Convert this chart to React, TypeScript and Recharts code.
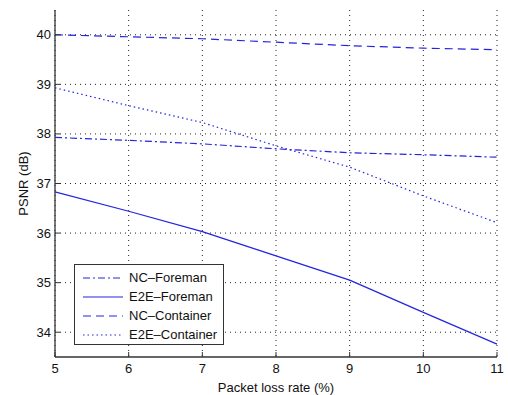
// PSNR vs packet loss rate chart

import { LineChart, Line, XAxis, YAxis, CartesianGrid, Legend } from "recharts";

const lossRates = [5, 6, 7, 8, 9, 10, 11];
const ncForeman = [37.93, 37.87, 37.8, 37.7, 37.62, 37.58, 37.53];
const e2eForeman = [36.83, 36.44, 36.03, 35.54, 35.05, 34.4, 33.76];
const ncContainer = [40.0, 39.96, 39.92, 39.85, 39.78, 39.73, 39.7];
const e2eContainer = [38.93, 38.57, 38.23, 37.76, 37.33, 36.75, 36.21];

const xTicks = [5, 6, 7, 8, 9, 10, 11];
const yTicks = [34, 35, 36, 37, 38, 39, 40];

const data = lossRates.map((x, i) => ({
  x,
  ncForeman: ncForeman[i],
  e2eForeman: e2eForeman[i],
  ncContainer: ncContainer[i],
  e2eContainer: e2eContainer[i],
}));

const BLUE = "#2424e0";
const FONT = "'Liberation Sans', Arial, sans-serif";

const seriesInfo = [
  { key: "ncForeman", name: "NC–Foreman", dash: "7 3 2 3" },
  { key: "e2eForeman", name: "E2E–Foreman", dash: undefined },
  { key: "ncContainer", name: "NC–Container", dash: "8 5" },
  { key: "e2eContainer", name: "E2E–Container", dash: "1.5 3" },
];

// inward ticks like matlab
function XTick(props: any) {
  const { x, y, payload } = props;
  return (
    <g>
      <line x1={x} x2={x} y1={y} y2={y - 5} stroke="#333" strokeWidth={1} />
      <text x={x} y={y + 16} textAnchor="middle" fontSize={13} fill="#111" fontFamily={FONT}>
        {payload.value}
      </text>
    </g>
  );
}

function YTick(props: any) {
  const { x, y, payload } = props;
  return (
    <g>
      <line x1={x} x2={x + 5} y1={y} y2={y} stroke="#333" strokeWidth={1} />
      <text x={x - 4} y={y + 4.5} textAnchor="end" fontSize={13} fill="#111" fontFamily={FONT}>
        {payload.value}
      </text>
    </g>
  );
}

function LegendBox() {
  return (
    <div
      style={{
        width: 150,
        height: 81,
        boxSizing: "border-box",
        border: "1px solid #333",
        background: "#fff",
        fontFamily: FONT,
        fontSize: 13,
        color: "#111",
        paddingTop: 3,
      }}
    >
      {seriesInfo.map((s) => (
        <div key={s.key} style={{ display: "flex", alignItems: "center", height: 19 }}>
          <svg width={54} height={10}>
            <line x1={8} x2={48} y1={5} y2={5} stroke={BLUE} strokeWidth={1.2} strokeDasharray={s.dash} />
          </svg>
          <span>{s.name}</span>
        </div>
      ))}
    </div>
  );
}

export default function App() {
  return (
    <div style={{ position: "absolute", left: 0, top: 0, width: 508, height: 395, background: "#fff" }}>
      <LineChart width={508} height={395} data={data} margin={{ top: 10, right: 11, bottom: 0, left: 25 }}>
        <CartesianGrid
          stroke="#222"
          strokeDasharray="1 4"
          strokeWidth={1}
          horizontalValues={yTicks}
          verticalValues={xTicks}
        />
        <XAxis
          dataKey="x"
          type="number"
          domain={[5, 11]}
          ticks={xTicks}
          height={38}
          tickSize={0}
          tickMargin={0}
          tickLine={false}
          tick={<XTick />}
          axisLine={{ stroke: "#333", strokeWidth: 1.3 }}
          label={{ value: "Packet loss rate (%)", position: "insideBottom", offset: 0, fontSize: 13, fill: "#111", fontFamily: FONT, dy: -3 }}
        />
        <YAxis
          type="number"
          domain={[33.5, 40.5]}
          ticks={yTicks}
          width={30}
          tickSize={0}
          tickMargin={0}
          tickLine={false}
          tick={<YTick />}
          axisLine={{ stroke: "#333", strokeWidth: 1.3 }}
          label={{ value: "PSNR (dB)", angle: -90, position: "insideLeft", offset: 0, fontSize: 13, fill: "#111", fontFamily: FONT, dx: -2, style: { textAnchor: "middle" } }}
        />
        <Legend
          layout="vertical"
          align="center"
          verticalAlign="middle"
          content={<LegendBox />}
          wrapperStyle={{ position: "absolute", left: 74, top: 264, width: 150, height: 81 }}
        />
        {seriesInfo.map((s) => (
          <Line
            key={s.key}
            dataKey={s.key}
            name={s.name}
            stroke={BLUE}
            strokeWidth={1.2}
            strokeDasharray={s.dash}
            dot={false}
            activeDot={false}
            isAnimationActive={false}
          />
        ))}
      </LineChart>
    </div>
  );
}
